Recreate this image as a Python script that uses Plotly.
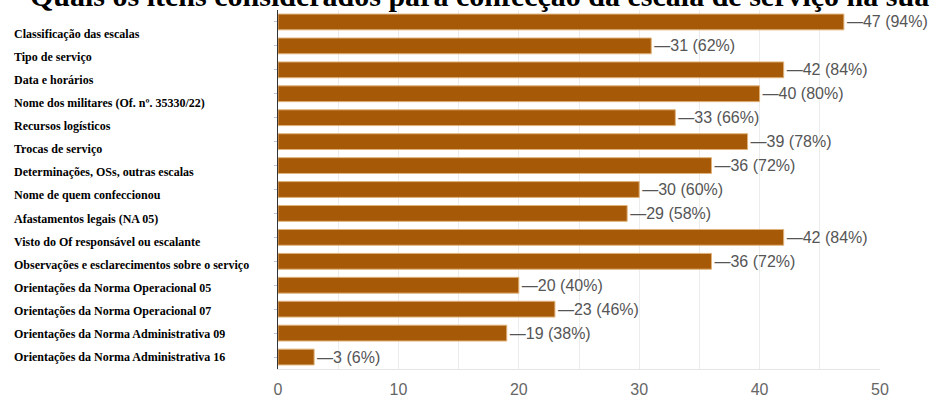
import plotly.graph_objects as go

categories = [
    "Classificação das escalas",
    "Tipo de serviço",
    "Data e horários",
    "Nome dos militares (Of. nº. 35330/22)",
    "Recursos logísticos",
    "Trocas de serviço",
    "Determinações, OSs, outras escalas",
    "Nome de quem confeccionou",
    "Afastamentos legais (NA 05)",
    "Visto do Of responsável ou escalante",
    "Observações e esclarecimentos sobre o serviço",
    "Orientações da Norma Operacional 05",
    "Orientações da Norma Operacional 07",
    "Orientações da Norma Administrativa 09",
    "Orientações da Norma Administrativa 16",
]
counts = [47, 31, 42, 40, 33, 39, 36, 30, 29, 42, 36, 20, 23, 19, 3]
percents = [94, 62, 84, 80, 66, 78, 72, 60, 58, 84, 72, 40, 46, 38, 6]
title_text = "Quais os itens considerados para confecção da escala de serviço na sua OPM?"

W, H = 936, 398
ML, MR, MT, MB = 278, 56, 10, 29
plot_w = W - ML - MR
plot_h = H - MT - MB

ids = list(range(len(categories)))
labels = ["—{} ({}%)".format(c, p) for c, p in zip(counts, percents)]

fig = go.Figure()
fig.add_trace(go.Bar(
    y=ids, x=counts, orientation="h",
    marker=dict(color="#a65907", line=dict(color="#e0b27a", width=1)),
    width=0.66,
    text=labels, textposition="outside",
    textfont=dict(family="Liberation Sans, Arial", size=16, color="#555555"),
    constraintext="none", cliponaxis=False,
    hoverinfo="skip",
))

annotations = []
for i, cat in enumerate(categories):
    ypx = 34 + i * 23.07
    annotations.append(dict(
        text="<b>" + cat + "</b>", xref="paper", yref="paper",
        x=(12 - ML) / plot_w, y=(H - MB - ypx) / plot_h,
        xanchor="left", yanchor="middle", showarrow=False,
        font=dict(family="Liberation Serif, Times New Roman", size=12, color="#000000"),
    ))
annotations.append(dict(
    text="<b>" + title_text + "</b>", xref="paper", yref="paper",
    x=(28 - ML) / plot_w, y=(H - MB - 14) / plot_h,
    xanchor="left", yanchor="bottom", showarrow=False,
    font=dict(family="Liberation Serif, Times New Roman", size=30, color="#000000"),
))

fig.update_layout(
    width=W, height=H,
    margin=dict(l=ML, r=MR, t=MT, b=MB, pad=0, autoexpand=False),
    paper_bgcolor="white", plot_bgcolor="white",
    showlegend=False,
    annotations=annotations,
    xaxis=dict(
        range=[0, 50], dtick=10, tick0=0, automargin=False,
        showgrid=True, gridcolor="#ececec", gridwidth=1,
        minor=dict(dtick=5, showgrid=True, gridcolor="#ececec"),
        zeroline=False, showline=True, linecolor="#e6e6e6",
        tickfont=dict(family="Liberation Sans, Arial", size=16, color="#666666"),
        ticks="", ticklabelstandoff=6, fixedrange=True,
    ),
    yaxis=dict(
        range=[len(categories) - 0.5, -0.5], automargin=False,
        tickvals=ids, showticklabels=False,
        ticks="outside", ticklen=3, tickcolor="#b8c8d8",
        showgrid=False, zeroline=False,
        showline=True, linecolor="#333333", linewidth=1,
        fixedrange=True,
    ),
)

fig.write_html("out.html")
